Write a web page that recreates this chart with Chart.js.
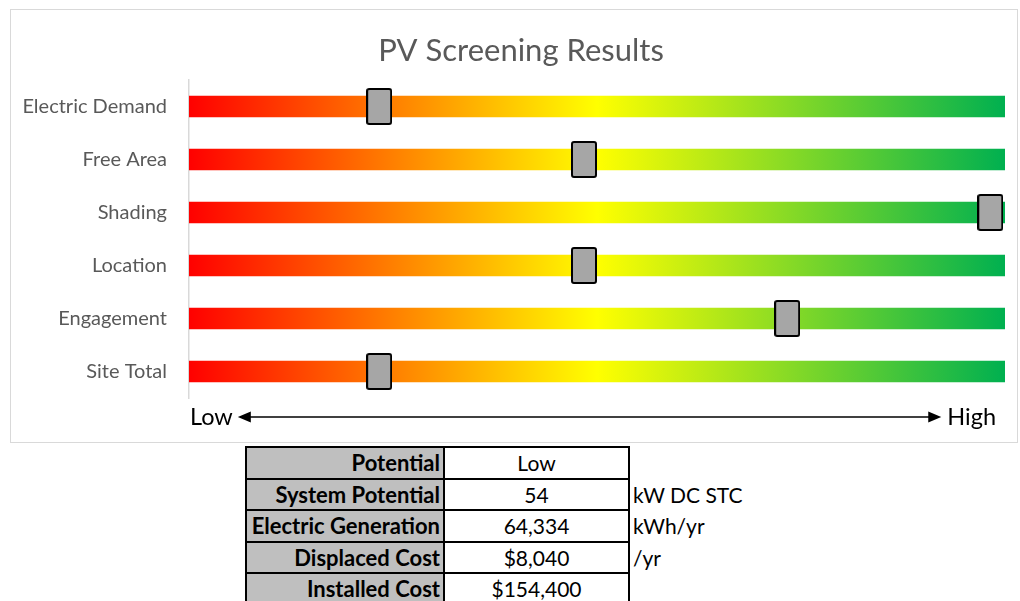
<!DOCTYPE html>
<html>
<head>
<meta charset="utf-8">
<script src="https://cdn.jsdelivr.net/npm/chart.js@4"></script>
<style>
  body { margin: 0; background: #fff; width: 1020px; height: 601px; overflow: hidden; position: relative; font-family: Lato, "Noto Sans", sans-serif; }
  #box { position: absolute; left: 10px; top: 9px; width: 1006px; height: 432px; border: 1px solid #d9d9d9; }
  #results { position: absolute; left: 245px; top: 446px; border-collapse: collapse; font-size: 21px; }
  #results td { height: 29.5px; padding: 0 3px; line-height: 29.5px; white-space: nowrap; }
  #results td.lbl { width: 190px; background: #bfbfbf; font-weight: bold; font-size: 22px; text-align: right; border: 2px solid #000; }
  #results td.val { width: 177px; text-align: center; border: 2px solid #000; }
  #results td.unit { text-align: left; padding-left: 3px; }
</style>
</head>
<body>
<div id="box"><canvas id="canvas" width="1006" height="432"></canvas></div>
<table id="results"></table>

<script>
/* data */
const categories = ['Electric Demand', 'Free Area', 'Shading', 'Location', 'Engagement', 'Site Total'];
const trackMax = [100, 100, 100, 100, 100, 100];
const scores = [23.3, 48.4, 98.2, 48.4, 73.3, 23.3];

const tableLabels = ['Potential', 'System Potential', 'Electric Generation', 'Displaced Cost', 'Installed Cost'];
const tableValues = ['Low', '54', '64,334', '$8,040', '$154,400'];
const tableUnits = ['', 'kW DC STC', 'kWh/yr', '/yr', ''];

const chartTitle = 'PV Screening Results';

/* table under the chart */
const table = document.getElementById('results');
tableLabels.forEach(function(lbl, i){
    const tr = document.createElement('tr');
    tr.innerHTML = '<td class="lbl"></td><td class="val"></td><td class="unit"></td>';
    tr.children[0].textContent = lbl;
    tr.children[1].textContent = tableValues[i];
    tr.children[2].textContent = tableUnits[i];
    table.appendChild(tr);
});

/* slider marker image */
const marker = document.createElement('canvas');
marker.width = 26;
marker.height = 37;
const mctx = marker.getContext('2d');
mctx.fillStyle = '#a6a6a6';
mctx.strokeStyle = '#000';
mctx.lineWidth = 2;
mctx.beginPath();
mctx.roundRect(1, 1, 24, 35, 2);
mctx.fill();
mctx.stroke();

/* title (excel puts it a bit right of the middle) + Low <----> High under the bars */
const extras = {
    id: 'extras',
    afterDraw(chart){
        const ctx = chart.ctx;
        const a = chart.chartArea;
        ctx.save();

        ctx.fillStyle = '#595959';
        ctx.font = '31px Lato, "Noto Sans", sans-serif';
        ctx.textAlign = 'center';
        ctx.textBaseline = 'middle';
        ctx.fillText(chartTitle, chart.width / 2 + 7, a.top - 29);

        const y = a.bottom + 19;
        ctx.fillStyle = '#000';
        ctx.strokeStyle = '#000';
        ctx.font = '23.5px Lato, "Noto Sans", sans-serif';
        ctx.textAlign = 'left';
        ctx.fillText('Low', a.left + 1, y);
        const x1 = a.left + 1 + ctx.measureText('Low').width + 5;
        ctx.textAlign = 'right';
        ctx.fillText('High', a.right - 9, y);
        const x2 = a.right - 9 - ctx.measureText('High').width - 6;
        ctx.lineWidth = 1.5;
        ctx.beginPath();
        ctx.moveTo(x1 + 8, y);
        ctx.lineTo(x2 - 8, y);
        ctx.stroke();
        ctx.beginPath();
        ctx.moveTo(x1, y);
        ctx.lineTo(x1 + 13, y - 5.5);
        ctx.lineTo(x1 + 13, y + 5.5);
        ctx.closePath();
        ctx.moveTo(x2, y);
        ctx.lineTo(x2 - 13, y - 5.5);
        ctx.lineTo(x2 - 13, y + 5.5);
        ctx.closePath();
        ctx.fill();
        ctx.restore();
    }
};

const ctx = document.getElementById('canvas');
new Chart(ctx, {
    type: 'bar',
    data: {
        labels: categories,
        datasets: [
        {
            label: 'track',
            data: trackMax,
            barThickness: 21,
            order: 2,
            backgroundColor: function(c){
                const a = c.chart.chartArea;
                if (!a) return '#ffff00';
                const g = c.chart.ctx.createLinearGradient(a.left, 0, a.right, 0);
                g.addColorStop(0, '#ff0000');
                g.addColorStop(0.5, '#ffff00');
                g.addColorStop(1, '#00b050');
                return g;
            }
        },
        {
            type: 'line',
            label: 'score',
            indexAxis: 'y',
            data: scores.map(function(v, i){ return {x: v, y: categories[i]}; }),
            showLine: false,
            pointStyle: marker,
            order: 1,
            clip: false
        }]
    },
    options: {
        indexAxis: 'y',
        responsive: false,
        animation: false,
        grouped: false,
        layout: { padding: { top: 70, right: 12, bottom: 44, left: 0 } },
        plugins: {
            legend: { display: false },
            tooltip: { enabled: false },
            title: { display: false }
        },
        scales: {
            x: { display: false, min: 0, max: 100 },
            y: {
                grid: { display: false, drawTicks: false },
                border: { display: true, color: '#d9d9d9', width: 1.5 },
                ticks: { color: '#595959', padding: 22, font: { family: 'Lato, "Noto Sans", sans-serif', size: 20 } },
                afterFit: function(scale){ scale.width = 178; }
            }
        }
    },
    plugins: [extras]
});
</script>
</body>
</html>
